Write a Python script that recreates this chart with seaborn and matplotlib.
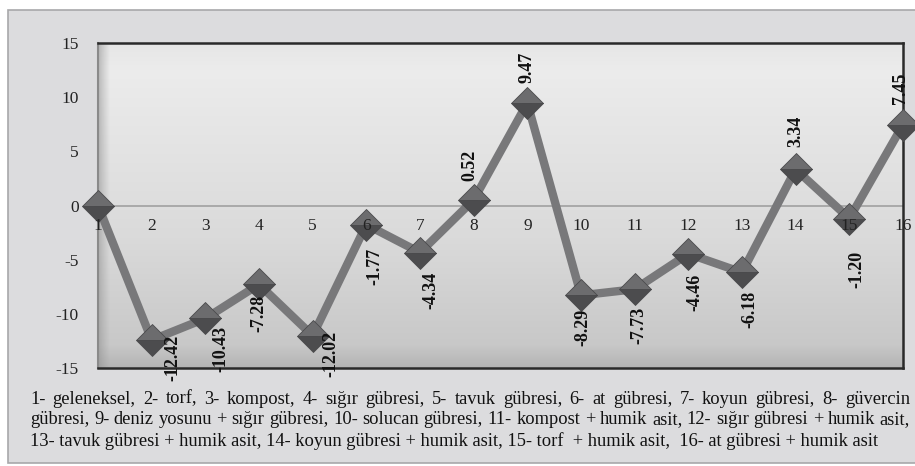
import numpy as np
import pandas as pd
import matplotlib
matplotlib.use('Agg')
import matplotlib.pyplot as plt
from matplotlib.patches import Rectangle
import seaborn as sns

# treatment number and change value
treatments = list(range(1, 17))
values = [0.00, -12.42, -10.43, -7.28, -12.02, -1.77, -4.34, 0.52,
          9.47, -8.29, -7.73, -4.46, -6.18, 3.34, -1.20, 7.45]
value_labels = ["", "-12.42", "-10.43", "-7.28", "-12.02", "-1.77", "-4.34", "0.52",
                "9.47", "-8.29", "-7.73", "-4.46", "-6.18", "3.34", "-1.20", "7.45"]
yticks = [-15, -10, -5, 0, 5, 10, 15]

caption_lines = [
    "1- geleneksel, 2- torf, 3- kompost, 4- sığır gübresi, 5- tavuk gübresi, 6- at gübresi, 7- koyun gübresi, 8- güvercin",
    "gübresi, 9- deniz yosunu + sığır gübresi, 10- solucan gübresi, 11- kompost + humik asit, 12- sığır gübresi + humik asit,",
    "13- tavuk gübresi + humik asit, 14- koyun gübresi + humik asit, 15- torf  + humik asit,  16- at gübresi + humik asit",
]

# label nudges in pixels: (dx, gap from marker centre)
label_dx = [0, 21, 16, 0, 18, 9, 11, -4, 0, 2, 4, 7, 8, 0, 8, -2]
label_gap = [0, -5, 7, 10, -5, 23, 19, 19, 20, 13, 18, 20, 18, 22, 32, 21]

df = pd.DataFrame({"t": treatments, "v": values})

sns.set_style("white")
plt.rcParams['font.family'] = ['Liberation Serif', 'DejaVu Serif']

W, H = 915, 466
fig = plt.figure(figsize=(W / 100, H / 100), dpi=100)
fig.patch.set_facecolor("white")

# outer chart box
fig.patches.append(Rectangle((8 / W, 3 / H), 920 / W, 453 / H, transform=fig.transFigure,
                             facecolor="#dcdcde", edgecolor="#a8a8aa", lw=1.2, zorder=-10))

ax = fig.add_axes([98 / W, (H - 368) / H, 805 / W, 325 / H])
ax.set_facecolor("none")

# gradient fill of plot area
grad = np.linspace(0, 1, 256).reshape(-1, 1)
cmap = matplotlib.colors.LinearSegmentedColormap.from_list(
    "g", [(0, "#e6e6e6"), (0.08, "#ececec"), (0.6, "#dadada"), (0.93, "#c8c8c8"), (1, "#b4b4b4")])
ax.imshow(grad, cmap=cmap, aspect="auto", extent=[1, 16, -15, 15], zorder=0, origin="upper")
# soft shading along the left edge
hgrad = np.linspace(0, 1, 64).reshape(1, -1)
shade = matplotlib.colors.LinearSegmentedColormap.from_list(
    "s", [(0.55, 0.55, 0.55, 0.55), (0.6, 0.6, 0.6, 0.0)])
ax.imshow(hgrad, cmap=shade, aspect="auto", extent=[1, 1.22, -15, 15], zorder=0.5)

ax.axhline(0, color="#a0a0a0", lw=1.2, zorder=1)

sns.lineplot(data=df, x="t", y="v", ax=ax, color="#78787a", lw=6, marker="D",
             markersize=16, fillstyle="top", markerfacecolor="#6c6c6e",
             markerfacecoloralt="#4c4c4e", markeredgecolor="#4a4a4c",
             markeredgewidth=0.6, zorder=3, clip_on=False)

ax.set_xlim(1, 16)
ax.set_ylim(-15, 15)
ax.set_yticks(yticks)
ax.set_yticklabels([str(t) for t in yticks], fontsize=12.5, color="#222222")
ax.set_xticks([])
ax.set_xlabel("")
ax.set_ylabel("")
ax.tick_params(axis="y", length=0, pad=14)

for t in treatments:
    ax.annotate(str(t), (t, 0), xytext=(0, -12), textcoords="offset pixels",
                ha="center", va="top", fontsize=12.5, color="#222222", zorder=6,
                annotation_clip=False)

for t, v, lab, dx, gap in zip(treatments, values, value_labels, label_dx, label_gap):
    if not lab:
        continue
    if v < 0:
        ax.annotate(lab, (t, v), xytext=(dx, -gap), textcoords="offset pixels",
                    ha="center", va="top", rotation=90, fontsize=13,
                    fontweight="bold", color="#111111", zorder=7, annotation_clip=False)
    else:
        ax.annotate(lab, (t, v), xytext=(dx, gap), textcoords="offset pixels",
                    ha="center", va="bottom", rotation=90, fontsize=13,
                    fontweight="bold", color="#111111", zorder=7, annotation_clip=False)

for side in ["top", "right", "bottom"]:
    ax.spines[side].set_color("#2a2a2a")
    ax.spines[side].set_linewidth(1.8)
ax.spines["left"].set_color("#8a8a8a")
ax.spines["left"].set_linewidth(1.5)

# caption, first two lines justified
renderer = fig.canvas.get_renderer()
x0, x1 = 30 / W, 910 / W
line_y = [399, 420, 441]
for i, line in enumerate(caption_lines):
    y = 1 - line_y[i] / H
    if i == len(caption_lines) - 1:
        fig.text(x0, y, line, fontsize=13.3, va="center", ha="left", color="#111111")
        continue
    words = line.split(" ")
    items = [fig.text(0, y, w, fontsize=13.3, va="center", ha="left", color="#111111") for w in words]
    widths = [it.get_window_extent(renderer).width / W for it in items]
    gap = (x1 - x0 - sum(widths)) / (len(words) - 1)
    x = x0
    for it, w in zip(items, widths):
        it.set_x(x)
        x += w + gap

fig.savefig("out.png", dpi=100)
